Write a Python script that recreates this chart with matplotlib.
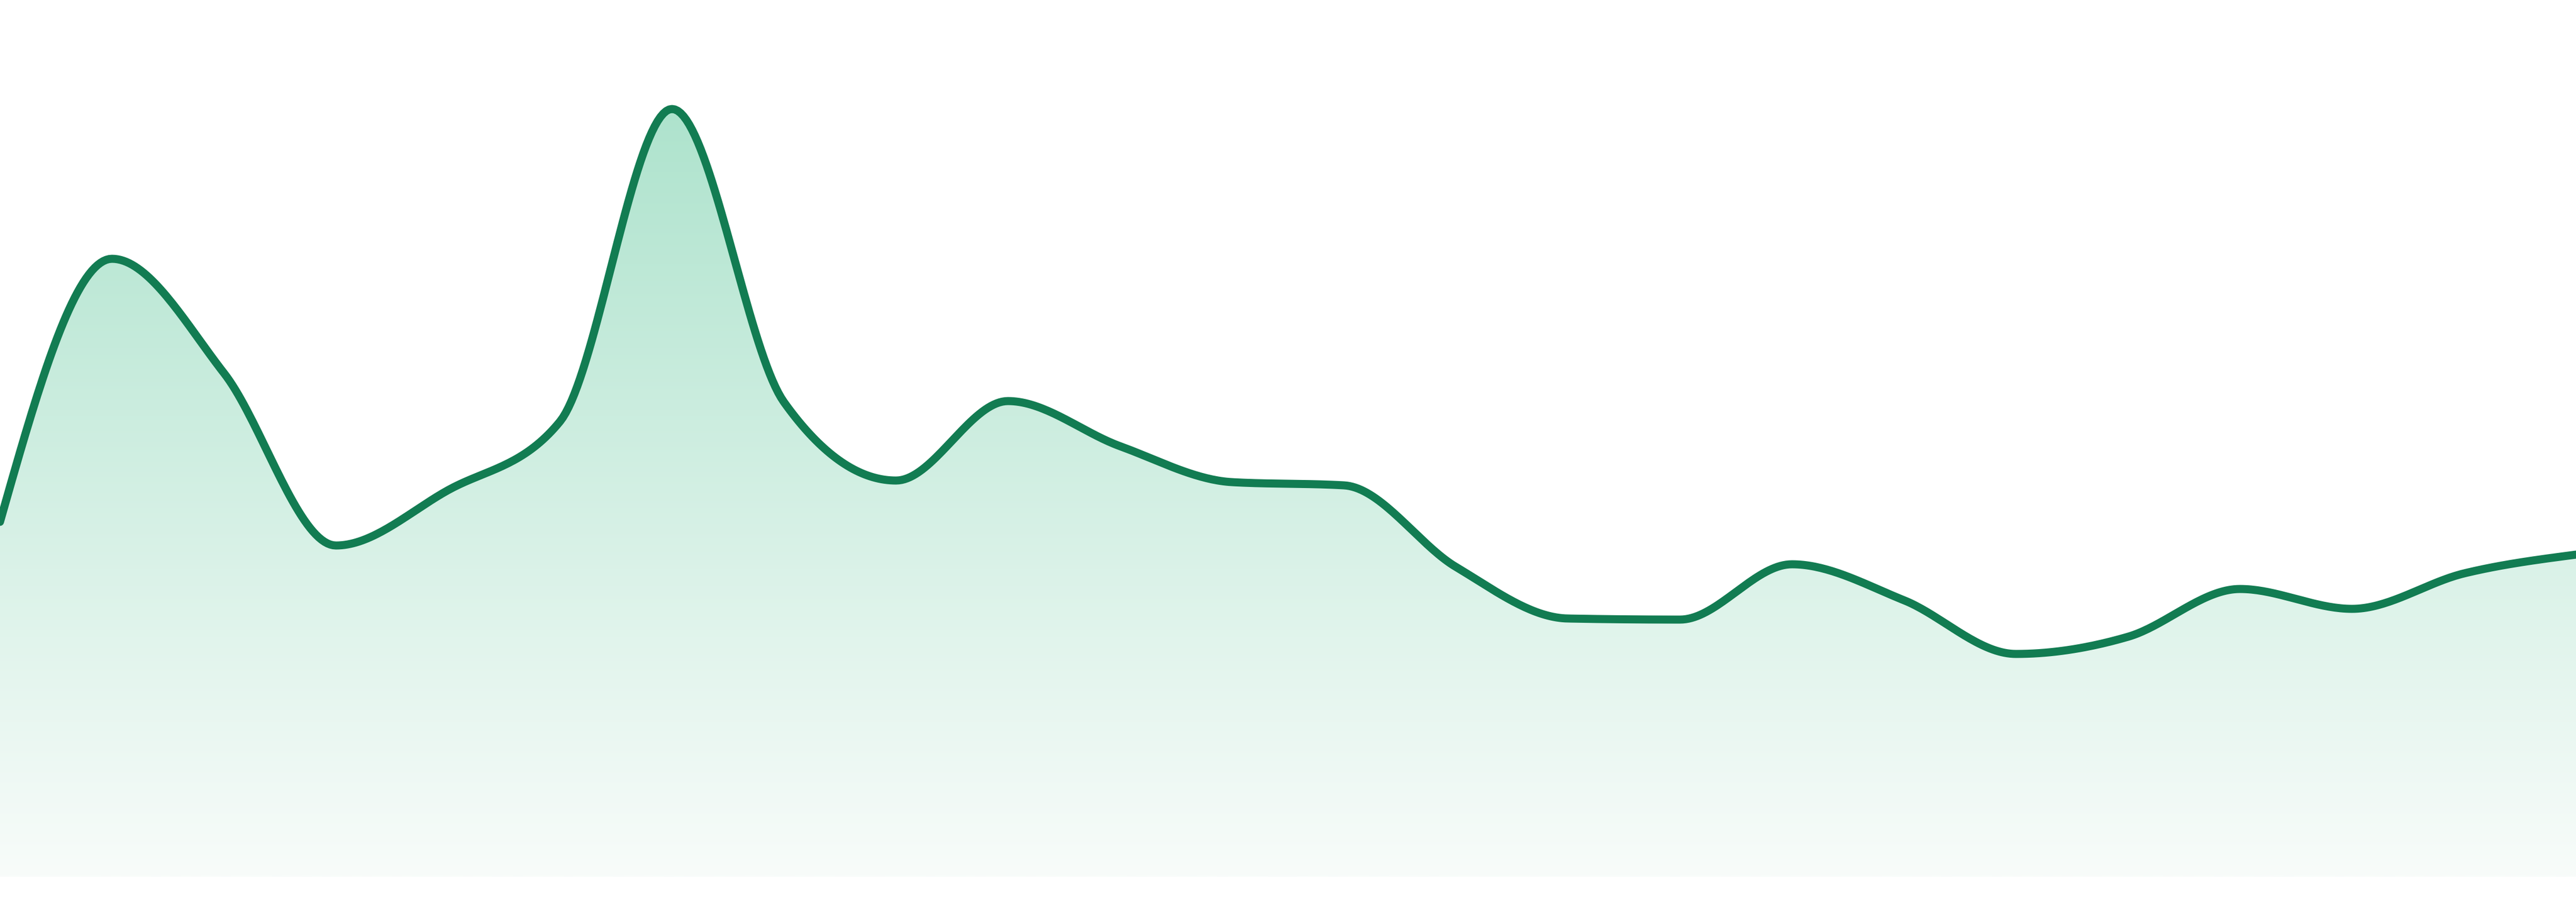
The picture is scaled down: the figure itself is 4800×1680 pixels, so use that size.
import numpy as np
import matplotlib
matplotlib.use("Agg")
import matplotlib.pyplot as plt
from matplotlib.patches import PathPatch
from matplotlib.path import Path

# data (24 evenly spaced points)
x_idx = list(range(24))
values = [66.1, 115.1, 93.8, 61.7, 72.0, 84.8, 143.0, 88.4, 73.8, 88.6, 80.2, 73.5,
          72.9, 57.7, 48.1, 47.9, 58.2, 51.5, 41.5, 44.7, 53.6, 49.9, 56.5, 60.0]

line_color = "#127c52"
fill_top = "#aee3cd"
fill_bottom = "#f8fcfa"


def monotone_x(xs, ys, n=40):
    xs = np.asarray(xs, float)
    ys = np.asarray(ys, float)
    N = len(xs)
    h = np.diff(xs)
    s = np.diff(ys) / h
    m = np.zeros(N)
    for i in range(1, N - 1):
        s0, s1 = s[i - 1], s[i]
        h0, h1 = h[i - 1], h[i]
        p = (s0 * h1 + s1 * h0) / (h0 + h1)
        m[i] = (np.sign(s0) + np.sign(s1)) * min(abs(s0), abs(s1), 0.5 * abs(p))
    m[0] = (3 * s[0] - m[1]) / 2
    m[-1] = (3 * s[-1] - m[-2]) / 2
    px, py = [xs[0]], [ys[0]]
    for i in range(N - 1):
        dx = h[i] / 3
        P0 = np.array([xs[i], ys[i]])
        P1 = np.array([xs[i] + dx, ys[i] + dx * m[i]])
        P2 = np.array([xs[i + 1] - dx, ys[i + 1] - dx * m[i + 1]])
        P3 = np.array([xs[i + 1], ys[i + 1]])
        t = np.linspace(0, 1, n)[1:, None]
        B = ((1 - t) ** 3) * P0 + 3 * ((1 - t) ** 2) * t * P1 + 3 * (1 - t) * t ** 2 * P2 + t ** 3 * P3
        px.extend(B[:, 0])
        py.extend(B[:, 1])
    return np.array(px), np.array(py)


fig = plt.figure(figsize=(16, 5.6), dpi=300)
ax = fig.add_axes([0, 0, 1, 1])
ax.set_xlim(0, 23)
ax.set_ylim(-4.7, 163.3)
ax.axis("off")

cx, cy = monotone_x(x_idx, values)

# gradient fill clipped to area under curve
px = np.r_[cx, cx[-1], cx[0], cx[0]]
py = np.r_[cy, 0, 0, cy[0]]
verts = np.column_stack([px, py])
poly = Path(verts, closed=True)
patch = PathPatch(poly, facecolor="none", edgecolor="none", transform=ax.transData)
ax.add_patch(patch)

top_rgb = np.array(matplotlib.colors.to_rgb(fill_top))
bot_rgb = np.array(matplotlib.colors.to_rgb(fill_bottom))
ymax = max(values)
grad = np.linspace(0, 1, 256)[:, None]
img = top_rgb[None, None, :] * (1 - grad[:, :, None]) + bot_rgb[None, None, :] * grad[:, :, None]
im = ax.imshow(img, extent=[0, 23, 0, ymax], origin="upper", aspect="auto",
               interpolation="bilinear", zorder=1)
im.set_clip_path(patch)

ax.plot(cx, cy, color=line_color, lw=3.6, solid_capstyle="round",
        solid_joinstyle="round", zorder=3)

fig.savefig("out.png", dpi=300, facecolor="white")
